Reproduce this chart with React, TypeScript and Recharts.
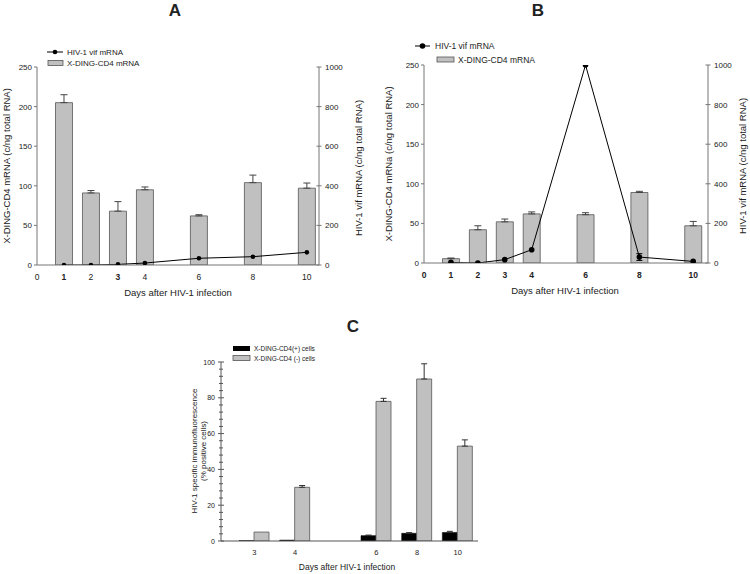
import React from 'react';
import { ComposedChart, BarChart, Bar, Line, XAxis, YAxis, ErrorBar, Customized } from 'recharts';

// ---------- data ----------
const daysAB = [1, 2, 3, 4, 6, 8, 10];
const xTicksAB = [0, 1, 2, 3, 4, 6, 8, 10];
const leftTicksAB = [0, 50, 100, 150, 200, 250];
const rightTicksAB = [0, 200, 400, 600, 800, 1000];

// Panel A
const cd4A = [205, 91, 68, 95, 62, 104, 97];
const cd4ErrA = [10, 3, 12, 3.5, 1.5, 9.5, 6.5];
const vifA = [0, 0, 3, 10, 34, 42, 64];

// Panel B
const cd4B = [5.5, 42, 52, 62, 61, 89, 47];
const cd4ErrB = [0.8, 5, 3.5, 2.5, 2.5, 1.5, 5.5];
const vifB = [3, 0, 17, 67, 1000, 30, 8];
const vifErrB = [null, null, null, null, null, 17, null];

// Panel C
const daysC = ['3', '4', '5', '6', '8', '10'];
const tickLabelsC = ['3', '4', '', '6', '8', '10'];
const posC = [0.2, 0.5, null, 3, 4.3, 4.8];
const posErrC = [null, null, null, 0.3, 0.4, 0.6];
const negC = [5, 30, null, 78, 90.5, 53];
const negErrC = [null, 1, null, 1.7, 8.5, 3.5];
const yTicksC = [0, 4, 8, 12, 16, 20, 24, 28, 32, 36, 40, 44, 48, 52, 56, 60, 64, 68, 72, 76, 80, 84, 88, 92, 96, 100];

const dataA = daysAB.map((d, i) => ({ day: d, cd4: cd4A[i], cd4Err: [0, cd4ErrA[i]], vif: vifA[i] }));
const dataB = daysAB.map((d, i) => ({
  day: d,
  cd4: cd4B[i],
  cd4Err: [0, cd4ErrB[i]],
  vif: vifB[i],
  vifErr: vifErrB[i] == null ? null : [vifErrB[i], vifErrB[i]],
}));
const dataC = daysC.map((d, i) => ({
  day: d,
  pos: posC[i],
  posErr: posErrC[i] == null ? null : [0, posErrC[i]],
  neg: negC[i],
  negErr: negErrC[i] == null ? null : [0, negErrC[i]],
}));

// ---------- styles ----------
const FONT = "'Liberation Sans', Arial, Helvetica, sans-serif";
const TXT = '#222';
const AXIS = '#777';
const GRAY = '#c0c0c0';
const BAR_STROKE = '#555';
const boldTicksA = [1, 3];

const mkLeftTick = (fs: number) => (props: any) => {
  const { x, y, payload } = props;
  return (
    <g>
      <line x1={x - 3} x2={x} y1={y} y2={y} stroke={AXIS} />
      <text x={x - 5} y={y + 3} textAnchor="end" fontSize={fs} fill={TXT} fontFamily={FONT}>
        {payload.value}
      </text>
    </g>
  );
};

const mkRightTick = (fs: number) => (props: any) => {
  const { x, y, payload } = props;
  return (
    <g>
      <line x1={x - 2.5} x2={x + 2.5} y1={y} y2={y} stroke={AXIS} />
      <text x={x + 6} y={y + 3} textAnchor="start" fontSize={fs} fill={TXT} fontFamily={FONT}>
        {payload.value}
      </text>
    </g>
  );
};

const mkXTick = (isBold: (v: number) => boolean) => (props: any) => {
  const { x, y, payload } = props;
  return (
    <text
      x={x}
      y={y + 15}
      textAnchor="middle"
      fontSize={8.5}
      fontWeight={isBold(payload.value) ? 'bold' : 'normal'}
      fill={TXT}
      fontFamily={FONT}
    >
      {payload.value}
    </text>
  );
};

const XTickC = (props: any) => {
  const { x, y, index } = props;
  return (
    <text x={x} y={y + 14} textAnchor="middle" fontSize={7.5} fill={TXT} fontFamily={FONT}>
      {tickLabelsC[index]}
    </text>
  );
};

const YTickC = (props: any) => {
  const { x, y, payload } = props;
  const major = payload.value % 20 === 0;
  return (
    <g>
      <line x1={x - (major ? 3 : 2)} x2={x + (major ? 3 : 2)} y1={y} y2={y} stroke="#555" />
      {major && (
        <text x={x - 6} y={y + 2.5} textAnchor="end" fontSize={7} fill={TXT} fontFamily={FONT}>
          {payload.value}
        </text>
      )}
    </g>
  );
};

const T = (p: any) => <text fontFamily={FONT} fill={TXT} {...p} />;

const OverlayA = () => (
  <g>
    <T x={175} y={15.5} textAnchor="middle" fontSize={17} fontWeight="bold">A</T>
    <line x1={47} x2={63} y1={52} y2={52} stroke="#000" />
    <circle cx={55} cy={52} r={2.3} fill="#000" />
    <T x={67} y={55} fontSize={8}>HIV-1 vif mRNA</T>
    <rect x={48} y={60.5} width={15} height={5} fill={GRAY} stroke={BAR_STROKE} strokeWidth={0.8} />
    <T x={67} y={66} fontSize={8}>X-DING-CD4 mRNA</T>
    <T x={10} y={166} fontSize={9.5} textAnchor="middle" transform="rotate(-90 10 166)">
      X-DING-CD4 mRNA (c/ng total RNA)
    </T>
    <T x={362} y={168} fontSize={9.5} textAnchor="middle" transform="rotate(-90 362 168)">
      HIV-1 vif mRNA (c/ng total RNA)
    </T>
    <T x={178} y={296} fontSize={9.5} textAnchor="middle">Days after HIV-1 infection</T>
  </g>
);

const OverlayB = () => (
  <g>
    <T x={163} y={15.5} textAnchor="middle" fontSize={17} fontWeight="bold">B</T>
    <line x1={40} x2={55} y1={46} y2={46} stroke="#000" />
    <circle cx={47.5} cy={46} r={2.8} fill="#000" />
    <T x={60} y={49} fontSize={8.5}>HIV-1 vif mRNA</T>
    <rect x={62} y={57} width={17} height={5} fill={GRAY} stroke={BAR_STROKE} strokeWidth={0.8} />
    <T x={83} y={63} fontSize={8.5}>X-DING-CD4 mRNA</T>
    <T x={17} y={164} fontSize={9.5} textAnchor="middle" transform="rotate(-90 17 164)">
      X-DING-CD4 mRNa (c/ng total RNA)
    </T>
    <T x={371} y={166} fontSize={9.5} textAnchor="middle" transform="rotate(-90 371 166)">
      HIV-1 vif mRNA (c/ng total RNA)
    </T>
    <T x={190} y={294} fontSize={9.5} textAnchor="middle">Days after HIV-1 infection</T>
  </g>
);

const OverlayC = () => (
  <g>
    <T x={203} y={32} textAnchor="middle" fontSize={17} fontWeight="bold">C</T>
    <rect x={83} y={46} width={17} height={5} fill="#000" />
    <T x={104} y={51} fontSize={6.5}>X-DING-CD4(+) cells</T>
    <rect x={83} y={55.5} width={17} height={5} fill={GRAY} stroke={BAR_STROKE} strokeWidth={0.8} />
    <T x={104} y={61} fontSize={6.5}>X-DING-CD4 (-) cells</T>
    <T x={47} y={151} fontSize={8} textAnchor="middle" transform="rotate(-90 47 151)">
      HIV-1 specific immunofluorescence
    </T>
    <T x={56} y={151} fontSize={8} textAnchor="middle" transform="rotate(-90 56 151)">
      (% positive cells)
    </T>
    <T x={197} y={270} fontSize={8.5} textAnchor="middle">Days after HIV-1 infection</T>
  </g>
);

export default function App() {
  return (
    <div style={{ position: 'absolute', left: 0, top: 0, width: 750, height: 574, background: '#fff', overflow: 'hidden' }}>
      <div style={{ position: 'absolute', left: 0, top: 0 }}>
        <ComposedChart width={375} height={300} data={dataA} margin={{ top: 67, right: 0, bottom: 0, left: 0 }}>
          <XAxis
            dataKey="day"
            type="number"
            domain={[0, 10.45]}
            ticks={xTicksAB}
            allowDataOverflow
            height={35}
            tickSize={0}
            tickMargin={0}
            tickLine={false}
            axisLine={{ stroke: AXIS }}
            tick={mkXTick((v) => boldTicksA.includes(v))}
            interval={0}
          />
          <YAxis
            yAxisId="left"
            orientation="left"
            domain={[0, 250]}
            ticks={leftTicksAB}
            allowDataOverflow
            width={37}
            tickSize={0}
            tickMargin={0}
            tickLine={false}
            axisLine={{ stroke: AXIS }}
            tick={mkLeftTick(8)}
            interval={0}
          />
          <YAxis
            yAxisId="right"
            orientation="right"
            domain={[0, 1000]}
            ticks={rightTicksAB}
            allowDataOverflow
            width={56}
            tickSize={0}
            tickMargin={0}
            tickLine={false}
            axisLine={{ stroke: AXIS }}
            tick={mkRightTick(8)}
            interval={0}
          />
          <Bar yAxisId="left" dataKey="cd4" barSize={17} fill={GRAY} stroke={BAR_STROKE} strokeWidth={0.8} isAnimationActive={false}>
            <ErrorBar dataKey="cd4Err" width={3.5} stroke="#444" strokeWidth={1} direction="y" />
          </Bar>
          <Line
            yAxisId="right"
            dataKey="vif"
            stroke="#000"
            strokeWidth={1}
            dot={{ r: 2.3, fill: '#000', stroke: '#000', strokeWidth: 0 }}
            activeDot={false}
            isAnimationActive={false}
          />
          <Customized component={OverlayA} />
        </ComposedChart>
      </div>

      <div style={{ position: 'absolute', left: 375, top: 0 }}>
        <ComposedChart width={375} height={300} data={dataB} margin={{ top: 65, right: 0, bottom: 0, left: 0 }}>
          <XAxis
            dataKey="day"
            type="number"
            domain={[0, 10.55]}
            ticks={xTicksAB}
            allowDataOverflow
            height={37}
            tickSize={0}
            tickMargin={0}
            tickLine={false}
            axisLine={{ stroke: AXIS }}
            tick={mkXTick(() => true)}
            interval={0}
          />
          <YAxis
            yAxisId="left"
            orientation="left"
            domain={[0, 250]}
            ticks={leftTicksAB}
            allowDataOverflow
            width={49}
            tickSize={0}
            tickMargin={0}
            tickLine={false}
            axisLine={{ stroke: AXIS }}
            tick={mkLeftTick(8)}
            interval={0}
          />
          <YAxis
            yAxisId="right"
            orientation="right"
            domain={[0, 1000]}
            ticks={rightTicksAB}
            allowDataOverflow
            width={42}
            tickSize={0}
            tickMargin={0}
            tickLine={false}
            axisLine={{ stroke: AXIS }}
            tick={mkRightTick(8)}
            interval={0}
          />
          <Bar yAxisId="left" dataKey="cd4" barSize={17} fill={GRAY} stroke={BAR_STROKE} strokeWidth={0.8} isAnimationActive={false}>
            <ErrorBar dataKey="cd4Err" width={3.5} stroke="#444" strokeWidth={1} direction="y" />
          </Bar>
          <Line
            yAxisId="right"
            dataKey="vif"
            stroke="#000"
            strokeWidth={1}
            dot={{ r: 2.8, fill: '#000', stroke: '#000', strokeWidth: 0 }}
            activeDot={false}
            isAnimationActive={false}
          >
            <ErrorBar dataKey="vifErr" width={3} stroke="#000" strokeWidth={1} direction="y" />
          </Line>
          <Customized component={OverlayB} />
        </ComposedChart>
      </div>

      <div style={{ position: 'absolute', left: 150, top: 300 }}>
        <BarChart
          width={340}
          height={274}
          data={dataC}
          margin={{ top: 62, right: 12, bottom: 0, left: 0 }}
          barGap={0}
        >
          <XAxis
            dataKey="day"
            type="category"
            height={33}
            padding={{ left: 13, right: 0 }}
            tickSize={0}
            tickMargin={0}
            tickLine={false}
            axisLine={{ stroke: '#555' }}
            tick={XTickC}
            interval={0}
          />
          <YAxis
            domain={[0, 100]}
            ticks={yTicksC}
            allowDataOverflow
            width={71}
            tickSize={0}
            tickMargin={0}
            tickLine={false}
            axisLine={{ stroke: '#555' }}
            tick={YTickC}
            interval={0}
          />
          <Bar dataKey="pos" barSize={15} fill="#000" stroke="#000" strokeWidth={0.5} isAnimationActive={false}>
            <ErrorBar dataKey="posErr" width={3} stroke="#333" strokeWidth={1} direction="y" />
          </Bar>
          <Bar dataKey="neg" barSize={15} fill={GRAY} stroke={BAR_STROKE} strokeWidth={0.8} isAnimationActive={false}>
            <ErrorBar dataKey="negErr" width={3} stroke="#333" strokeWidth={1} direction="y" />
          </Bar>
          <Customized component={OverlayC} />
        </BarChart>
      </div>
    </div>
  );
}
